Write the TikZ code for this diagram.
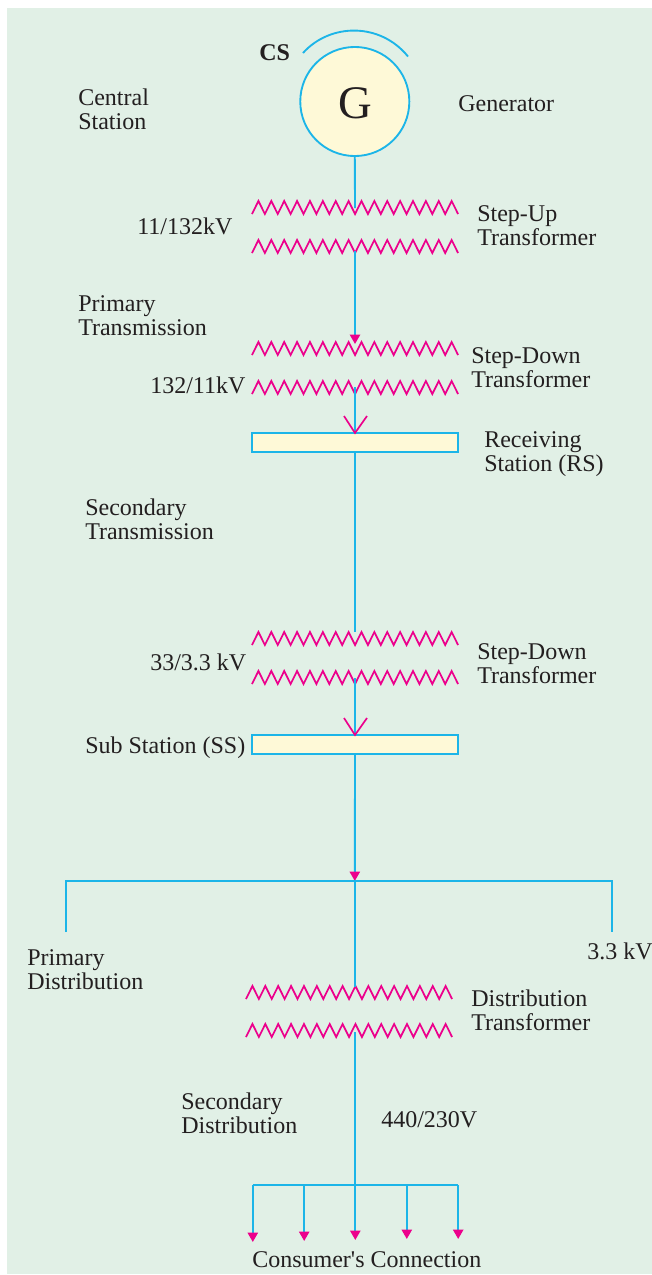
\documentclass[tikz,border=0pt]{standalone}
\usepackage{fontspec}
\setmainfont{Liberation Serif}
\usetikzlibrary{arrows.meta,calc}
\definecolor{bgc}{HTML}{E1F0E6}
\definecolor{creamc}{HTML}{FEF9D7}
\definecolor{bluec}{HTML}{1CB5E8}
\definecolor{magc}{HTML}{EC008C}
\definecolor{txtc}{HTML}{231F20}
\newcommand{\twol}[2]{\vtop{\baselineskip=18pt\hbox{#1}\hbox{#2}}}
\newcommand{\zigz}[3]{%
  \draw[zigline] (#2,#3) \foreach \i in {1,...,16} {-- ++(6.44,-13) -- ++(6.44,13)};
  \coordinate (#1) at ($(#2,#3)+(103,0)$);}
\tikzset{
  x=0.75pt,y=-0.75pt,
  wire/.style={draw=bluec,line width=1.4pt},
  zigline/.style={draw=magc,line width=1.3pt,miter limit=10},
  lbl/.style={anchor=base west,inner sep=0pt,text=txtc,font=\fontsize{18pt}{18pt}\selectfont},
  boxn/.style={draw=bluec,fill=creamc,line width=1.4pt,minimum width=154.5pt,minimum height=14.3pt,inner sep=0pt,outer sep=0pt,anchor=north west},
  tipa/.style={-{Triangle[length=7pt,width=7.6pt,fill=magc,color=magc]}},
  tipv/.style={draw=magc,line width=1.25pt},
}
\begin{document}
\begin{tikzpicture}
\useasboundingbox (0,0) rectangle (652,1275);
\fill[white] (0,0) rectangle (652,1275);
\fill[bgc] (7,8) rectangle (652,1274);
% generator
\node[circle,draw=bluec,fill=creamc,line width=1.4pt,minimum size=81.8pt,inner sep=0pt,outer sep=0pt] (gen) at (354.8,101.5) {};
\node[anchor=base,inner sep=0pt,text=txtc,font=\fontsize{35pt}{36pt}\selectfont] (gl) at (355,118) {G};
\coordinate (arcL) at (303,53);
\coordinate (arcR) at (408,56.5);
\draw[wire] (arcL) .. controls (330,23) and (380,22) .. (arcR);
% transformers
\zigz{z1}{252}{214}
\zigz{z2}{252}{253}
\zigz{z3}{252}{355}
\zigz{z4}{252}{394}
\zigz{z5}{252}{645}
\zigz{z6}{252}{684}
\zigz{z7}{246}{999}
\zigz{z8}{246}{1037}
% bars
\node[boxn] (rs) at (252,433) {};
\node[boxn] (ss) at (252,735) {};
% connectors
\draw[wire] (gen.south) -- ($(z1)+(0,-6)$);
\draw[wire,tipa] ($(z2)+(0,-2)$) -- ($(z3)+(0,-11)$);
\draw[wire] ($(z4)+(0,-7)$) -- (rs.north);
\draw[tipv] ($(rs.north)+(-11,-17)$) -- (rs.north) -- ($(rs.north)+(12,-17)$);
\draw[wire] (rs.south) -- ($(z5)+(0,-13)$);
\draw[wire] ($(z6)+(0,-6)$) -- (ss.north);
\draw[tipv] ($(ss.north)+(-11,-17)$) -- (ss.north) -- ($(ss.north)+(12,-17)$);
\coordinate (busT) at (354.8,881);
\coordinate (busL) at (65.8,881);
\coordinate (busR) at (612,881);
\coordinate (dropL) at (65.8,932);
\coordinate (dropR) at (612,932);
\draw[wire,tipa] (ss.south) -- (busT);
\draw[wire] (dropL) -- (busL) -- (busR) -- (dropR);
\draw[wire] (busT) -- (354.8,987);
\coordinate (lowT) at (355.3,1185);
\draw[wire] (355.3,1032) -- (lowT);
\coordinate (la) at (252.8,1185);
\coordinate (lb) at (304.2,1185);
\coordinate (lc) at (355.3,1185);
\coordinate (ld) at (406.8,1185);
\coordinate (le) at (458.2,1185);
\coordinate (ta) at (252.8,1242);
\coordinate (tb) at (304.2,1241);
\coordinate (tc) at (355.3,1240);
\coordinate (td) at (406.8,1239);
\coordinate (te) at (458.2,1239);
\draw[wire] (la) -- (le);
\draw[wire,tipa] (la) -- (ta);
\draw[wire,tipa] (lb) -- (tb);
\draw[wire,tipa] (lc) -- (tc);
\draw[wire,tipa] (ld) -- (td);
\draw[wire,tipa] (le) -- (te);
% labels
\node[lbl,font=\fontsize{18pt}{18pt}\selectfont\bfseries] (cs) at (259,60) {CS};
\node[lbl] (t1) at (78,105.5) {\twol{Central}{Station}};
\node[lbl] (t2) at (458,111.5) {Generator};
\node[lbl] (t3) at (137,234) {11/132kV};
\node[lbl] (t4) at (477,221) {\twol{Step-Up}{Transformer}};
\node[lbl] (t5) at (78,311) {\twol{Primary}{Transmission}};
\node[lbl] (t6) at (150,393) {132/11kV};
\node[lbl] (t7) at (471,363) {\twol{Step-Down}{Transformer}};
\node[lbl] (t8) at (484,447) {\twol{Receiving}{Station (RS)}};
\node[lbl] (t9) at (85,515) {\twol{Secondary}{Transmission}};
\node[lbl] (t10) at (150,670) {33/3.3 kV};
\node[lbl] (t11) at (477,659) {\twol{Step-Down}{Transformer}};
\node[lbl] (t12) at (85,753) {Sub Station (SS)};
\node[lbl] (t13) at (27,965) {\twol{Primary}{Distribution}};
\node[lbl] (t14) at (587,959) {3.3 kV};
\node[lbl] (t15) at (471,1006) {\twol{Distribution}{Transformer}};
\node[lbl] (t16) at (181,1109) {\twol{Secondary}{Distribution}};
\node[lbl] (t17) at (381,1127) {440/230V};
\node[lbl] (t18) at (252,1267) {Consumer\textquotesingle s Connection};
\end{tikzpicture}
\end{document}
